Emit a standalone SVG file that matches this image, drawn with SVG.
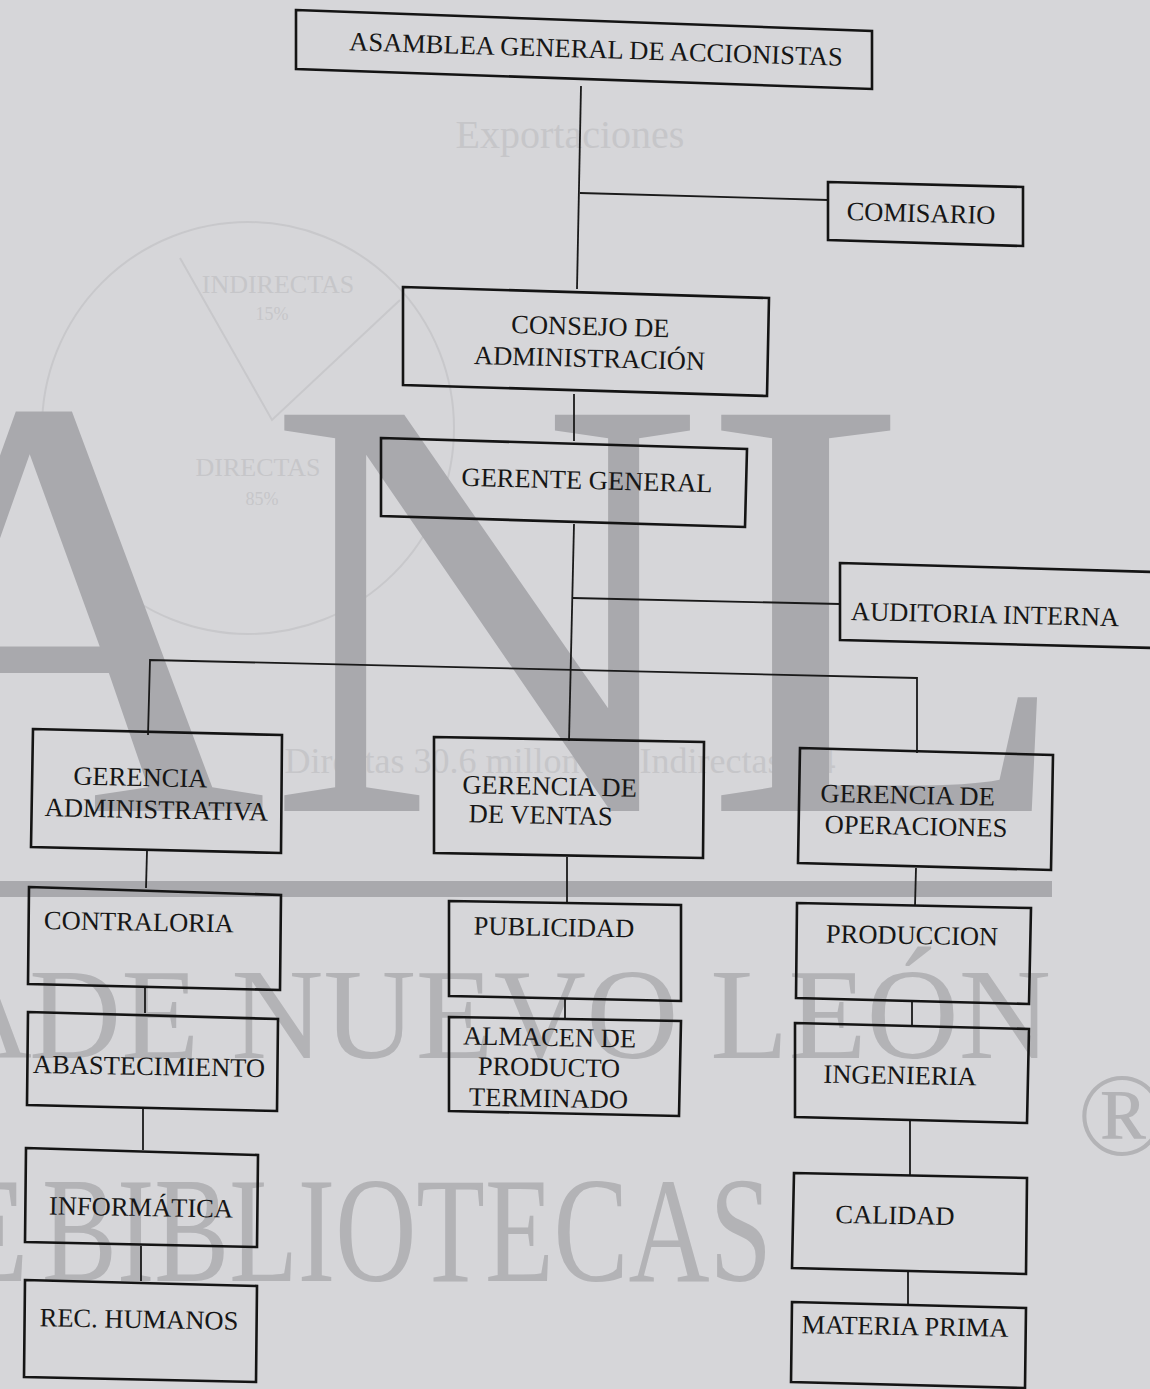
<svg xmlns="http://www.w3.org/2000/svg" width="1150" height="1389" viewBox="0 0 1150 1389">
  <style>
    .bg { fill: #d6d6d9; }
    .wm { font-family: "Liberation Serif", "Times New Roman", serif; fill: #a9a9ad; }
    .wm2 { font-family: "Liberation Serif", "Times New Roman", serif; fill: #b3b3b6; }
    .ghost { font-family: "Liberation Serif", "Times New Roman", serif; fill: #c6c6c9; }
    .ghostline { fill: none; stroke: #c8c8cb; stroke-width: 2; }
    .box { fill: none; stroke: #141414; stroke-width: 2.6; stroke-linejoin: miter; }
    .link { fill: none; stroke: #1a1a1a; stroke-width: 1.8; }
    .lbl { font-family: "Liberation Serif", "Times New Roman", serif; font-size: 26.5px; fill: #161616; }
    .mid { text-anchor: middle; }
  </style>

  <rect class="bg" x="0" y="0" width="1150" height="1389"/>

  <!-- background watermark and faint bleed-through -->
  <g id="watermark">
    <text class="ghost" x="570" y="148" font-size="40" text-anchor="middle">Exportaciones</text>
    <circle class="ghostline" cx="248" cy="428" r="206"/>
    <polyline class="ghostline" points="180,258 272,420 400,300"/>
    <text class="ghost" x="278" y="293" font-size="26" text-anchor="middle">INDIRECTAS</text>
    <text class="ghost" x="272" y="320" font-size="18" text-anchor="middle">15%</text>
    <text class="ghost" x="258" y="476" font-size="26" text-anchor="middle">DIRECTAS</text>
    <text class="ghost" x="262" y="505" font-size="18" text-anchor="middle">85%</text>
    <text class="ghost" x="560" y="773" font-size="36" text-anchor="middle">Directas 30.6 millones - Indirectas 5.4</text>

    <text class="wm" x="-170" y="811" font-size="605">ANL</text>
    <rect class="wm" x="0" y="881" width="1052" height="16"/>
    <text class="wm2" x="32" y="1058" font-size="130" text-anchor="end">A</text>
    <text class="wm2" x="29" y="1058" font-size="130" textLength="1022" lengthAdjust="spacingAndGlyphs">DE NUEVO LEÓN</text>
    <text class="wm2" x="30" y="1281" font-size="150" text-anchor="end">E</text>
    <text class="wm2" x="42" y="1281" font-size="150" textLength="730" lengthAdjust="spacingAndGlyphs">BIBLIOTECAS</text>
    <text class="wm2" x="1122" y="1155" font-size="118" text-anchor="middle">®</text>
  </g>

  <!-- connectors -->
  <g id="connectors">
    <line class="link" x1="581" y1="86" x2="577" y2="289"/>
    <line class="link" x1="580" y1="193" x2="828" y2="200"/>
    <line class="link" x1="574" y1="394" x2="574" y2="441"/>
    <line class="link" x1="574" y1="524" x2="569" y2="741"/>
    <line class="link" x1="573" y1="598" x2="840" y2="604"/>
    <polyline class="link" points="148,735 150,660 917,678 917,753"/>
    <line class="link" x1="147" y1="851" x2="146" y2="888"/>
    <line class="link" x1="145" y1="988" x2="145" y2="1013"/>
    <line class="link" x1="143" y1="1109" x2="143" y2="1150"/>
    <line class="link" x1="141" y1="1246" x2="141" y2="1281"/>
    <line class="link" x1="567" y1="857" x2="567" y2="902"/>
    <line class="link" x1="565" y1="999" x2="565" y2="1019"/>
    <line class="link" x1="916" y1="868" x2="915" y2="906"/>
    <line class="link" x1="912" y1="1002" x2="912" y2="1026"/>
    <line class="link" x1="910" y1="1121" x2="910" y2="1176"/>
    <line class="link" x1="908" y1="1272" x2="908" y2="1305"/>
  </g>

  <g id="asamblea">
    <polygon class="box" points="296,10 872,31 872,89 296,69"/>
    <text class="lbl mid" x="596" y="58" transform="rotate(1.8 596 52)">ASAMBLEA GENERAL DE ACCIONISTAS</text>
  </g>

  <g id="comisario">
    <polygon class="box" points="828,182 1023,187 1023,246 828,240"/>
    <text class="lbl mid" x="921" y="222" transform="rotate(1.5 921 213)">COMISARIO</text>
  </g>

  <g id="consejo">
    <polygon class="box" points="403,287 769,298 767,396 403,385"/>
    <text class="lbl mid" x="590" y="335" transform="rotate(1.5 590 340)">CONSEJO DE</text>
    <text class="lbl mid" x="590" y="367" transform="rotate(1.5 590 340)">ADMINISTRACIÓN</text>
  </g>

  <g id="gerente-general">
    <polygon class="box" points="381,438 747,449 745,527 381,516"/>
    <text class="lbl mid" x="587" y="489" transform="rotate(1.5 587 480)">GERENTE GENERAL</text>
  </g>

  <g id="auditoria">
    <polygon class="box" points="840,563 1156,572 1156,648 840,640"/>
    <text class="lbl" x="851" y="620" transform="rotate(1.3 851 612)">AUDITORIA INTERNA</text>
  </g>

  <g id="gerencia-administrativa">
    <polygon class="box" points="33,729 282,735 281,853 31,847"/>
    <text class="lbl mid" x="140" y="786" transform="rotate(1.2 140 795)">GERENCIA</text>
    <text class="lbl" x="45" y="818" transform="rotate(1.2 140 795)">ADMINISTRATIVA</text>
  </g>

  <g id="gerencia-ventas">
    <polygon class="box" points="434,737 704,742 703,858 434,853"/>
    <text class="lbl" x="462" y="795" transform="rotate(1.2 550 805)">GERENCIA DE</text>
    <text class="lbl" x="469" y="824" transform="rotate(1.2 550 805)">DE VENTAS</text>
  </g>

  <g id="gerencia-operaciones">
    <polygon class="box" points="800,748 1053,755 1051,870 798,863"/>
    <text class="lbl" x="820" y="804" transform="rotate(1.2 920 815)">GERENCIA DE</text>
    <text class="lbl" x="825" y="835" transform="rotate(1.2 920 815)">OPERACIONES</text>
  </g>

  <g id="contraloria">
    <polygon class="box" points="29,887 281,895 280,990 28,984"/>
    <text class="lbl" x="44" y="929" transform="rotate(1 44 921)">CONTRALORIA</text>
  </g>

  <g id="abastecimiento">
    <polygon class="box" points="28,1012 278,1019 277,1111 27,1105"/>
    <text class="lbl" x="33" y="1073" transform="rotate(1 33 1065)">ABASTECIMIENTO</text>
  </g>

  <g id="informatica">
    <polygon class="box" points="26,1148 258,1155 257,1247 25,1242"/>
    <text class="lbl mid" x="141" y="1216" transform="rotate(1 141 1208)">INFORMÁTICA</text>
  </g>

  <g id="rec-humanos">
    <polygon class="box" points="25,1280 257,1286 256,1382 24,1377"/>
    <text class="lbl mid" x="139" y="1328" transform="rotate(1 139 1320)">REC. HUMANOS</text>
  </g>

  <g id="publicidad">
    <polygon class="box" points="449,901 681,905 681,1001 449,996"/>
    <text class="lbl mid" x="554" y="936" transform="rotate(1 554 928)">PUBLICIDAD</text>
  </g>

  <g id="almacen">
    <polygon class="box" points="449,1017 681,1021 679,1116 449,1111"/>
    <text class="lbl mid" x="549" y="1046" transform="rotate(1 549 1068)">ALMACEN DE</text>
    <text class="lbl mid" x="549" y="1076" transform="rotate(1 549 1068)">PRODUCTO</text>
    <text class="lbl mid" x="549" y="1107" transform="rotate(1 549 1068)">TERMINADO</text>
  </g>

  <g id="produccion">
    <polygon class="box" points="797,903 1031,908 1029,1004 796,998"/>
    <text class="lbl mid" x="912" y="944" transform="rotate(1 912 936)">PRODUCCION</text>
  </g>

  <g id="ingenieria">
    <polygon class="box" points="795,1023 1029,1029 1027,1123 795,1117"/>
    <text class="lbl mid" x="900" y="1084" transform="rotate(1 900 1076)">INGENIERIA</text>
  </g>

  <g id="calidad">
    <polygon class="box" points="794,1173 1027,1178 1026,1274 792,1268"/>
    <text class="lbl mid" x="895" y="1224" transform="rotate(1 895 1216)">CALIDAD</text>
  </g>

  <g id="materia-prima">
    <polygon class="box" points="792,1302 1026,1308 1025,1388 791,1382"/>
    <text class="lbl mid" x="905" y="1335" transform="rotate(1 905 1327)">MATERIA PRIMA</text>
  </g>
</svg>
